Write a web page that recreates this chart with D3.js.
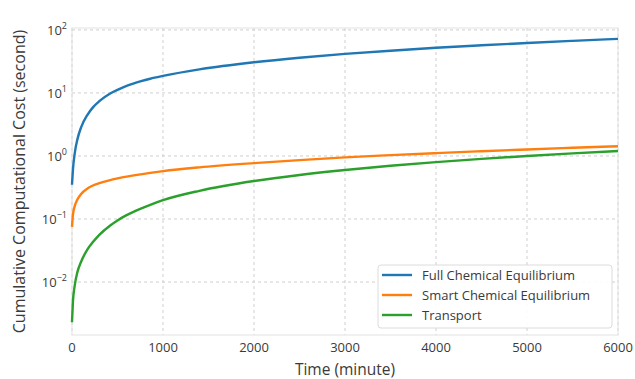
<!DOCTYPE html>
<html>
<head>
<meta charset="utf-8">
<script src="https://cdn.jsdelivr.net/npm/d3@7"></script>
<style>
  body { margin: 0; background: #fff; }
  text { font-family: "Open Sans", sans-serif; fill: #3a3a3a; }
</style>
</head>
<body>
<svg id="chart" width="635" height="379"></svg>
<script>
  const time = [0, 10, 30, 60, 100, 170, 230, 300, 420, 500, 600, 750, 860, 1000, 1400, 2000, 2500, 3000, 3500, 4000, 4500, 5000, 5500, 6000];
  const fullEq = [0.35, 0.6, 1.1, 1.85, 2.85, 4.5, 5.9, 7.4, 9.8, 11.2, 12.9, 15.2, 16.8, 18.6, 23.6, 30.6, 36.2, 41.6, 46.8, 52, 57, 62, 67, 72];
  const smartEq = [0.075, 0.115, 0.16, 0.205, 0.25, 0.305, 0.34, 0.37, 0.415, 0.44, 0.47, 0.51, 0.54, 0.575, 0.66, 0.77, 0.86, 0.95, 1.03, 1.11, 1.19, 1.27, 1.35, 1.43];
  const transport = [0.0023, 0.0048, 0.0088, 0.0145, 0.021, 0.033, 0.043, 0.056, 0.079, 0.095, 0.115, 0.145, 0.168, 0.199, 0.28, 0.4, 0.5, 0.6, 0.7, 0.8, 0.9, 1.0, 1.1, 1.2];

  const seriesNames = ["Full Chemical Equilibrium", "Smart Chemical Equilibrium", "Transport"];
  const colors = ["#1f77b4", "#ff7f0e", "#2ca02c"];
  const xTicks = [0, 1000, 2000, 3000, 4000, 5000, 6000];
  const yExps = [-2, -1, 0, 1, 2];

  const width = 635, height = 379;
  const margin = {top: 28, right: 17, bottom: 44, left: 72};
  const svg = d3.select("#chart");

  const x = d3.scaleLinear().domain([0, 6000]).range([margin.left, width - margin.right]);
  const y = d3.scaleLog().domain([Math.pow(10, -2.84), Math.pow(10, 2.03)])
    .range([height - margin.bottom, margin.top]);

  // grid
  const grid = svg.append("g").attr("stroke", "#cfcfcf").attr("stroke-dasharray", "3,3");
  grid.selectAll("line.v").data(xTicks).join("line")
    .attr("x1", d => x(d)).attr("x2", d => x(d))
    .attr("y1", margin.top).attr("y2", height - margin.bottom);
  grid.selectAll("line.h").data(yExps).join("line")
    .attr("x1", margin.left).attr("x2", width - margin.right)
    .attr("y1", d => y(Math.pow(10, d))).attr("y2", d => y(Math.pow(10, d)));

  svg.append("rect")
    .attr("x", margin.left).attr("y", margin.top)
    .attr("width", width - margin.left - margin.right)
    .attr("height", height - margin.top - margin.bottom)
    .attr("fill", "none").attr("stroke", "#e2e2e2");

  // x tick labels
  svg.append("g").selectAll("text").data(xTicks).join("text")
    .attr("x", d => x(d)).attr("y", height - margin.bottom + 17)
    .attr("text-anchor", "middle").attr("font-size", 13)
    .text(d => d);

  // y tick labels with superscript
  const yl = svg.append("g").selectAll("text").data(yExps).join("text")
    .attr("x", margin.left - 5).attr("y", d => y(Math.pow(10, d)) + 5)
    .attr("text-anchor", "end").attr("font-size", 13);
  yl.append("tspan").text("10");
  yl.append("tspan").attr("dy", -6).attr("font-size", 9)
    .text(d => d < 0 ? "\u2212" + (-d) : d);

  // axis titles
  svg.append("text")
    .attr("x", (margin.left + width - margin.right) / 2).attr("y", height - 4)
    .attr("text-anchor", "middle").attr("font-size", 15.5)
    .text("Time (minute)");
  svg.append("text")
    .attr("transform", `translate(25,${(margin.top + height - margin.bottom) / 2}) rotate(-90)`)
    .attr("text-anchor", "middle").attr("font-size", 16)
    .text("Cumulative Computational Cost (second)");

  // lines
  const line = d3.line().x(d => x(d[0])).y(d => y(d[1])).curve(d3.curveMonotoneX);
  [fullEq, smartEq, transport].forEach((vals, i) => {
    svg.append("path")
      .datum(time.map((t, j) => [t, vals[j]]))
      .attr("fill", "none").attr("stroke", colors[i]).attr("stroke-width", 2.4)
      .attr("d", line);
  });

  // legend
  const lg = svg.append("g").attr("transform", "translate(378,265)");
  lg.append("rect").attr("width", 234).attr("height", 63).attr("rx", 3)
    .attr("fill", "#fff").attr("fill-opacity", 0.9).attr("stroke", "#dcdcdc");
  seriesNames.forEach((name, i) => {
    const yy = 10 + i * 20;
    lg.append("line").attr("x1", 4).attr("x2", 34).attr("y1", yy).attr("y2", yy)
      .attr("stroke", colors[i]).attr("stroke-width", 2.4);
    lg.append("text").attr("x", 44).attr("y", yy + 4.5).attr("font-size", 13).text(name);
  });
</script>
</body>
</html>
